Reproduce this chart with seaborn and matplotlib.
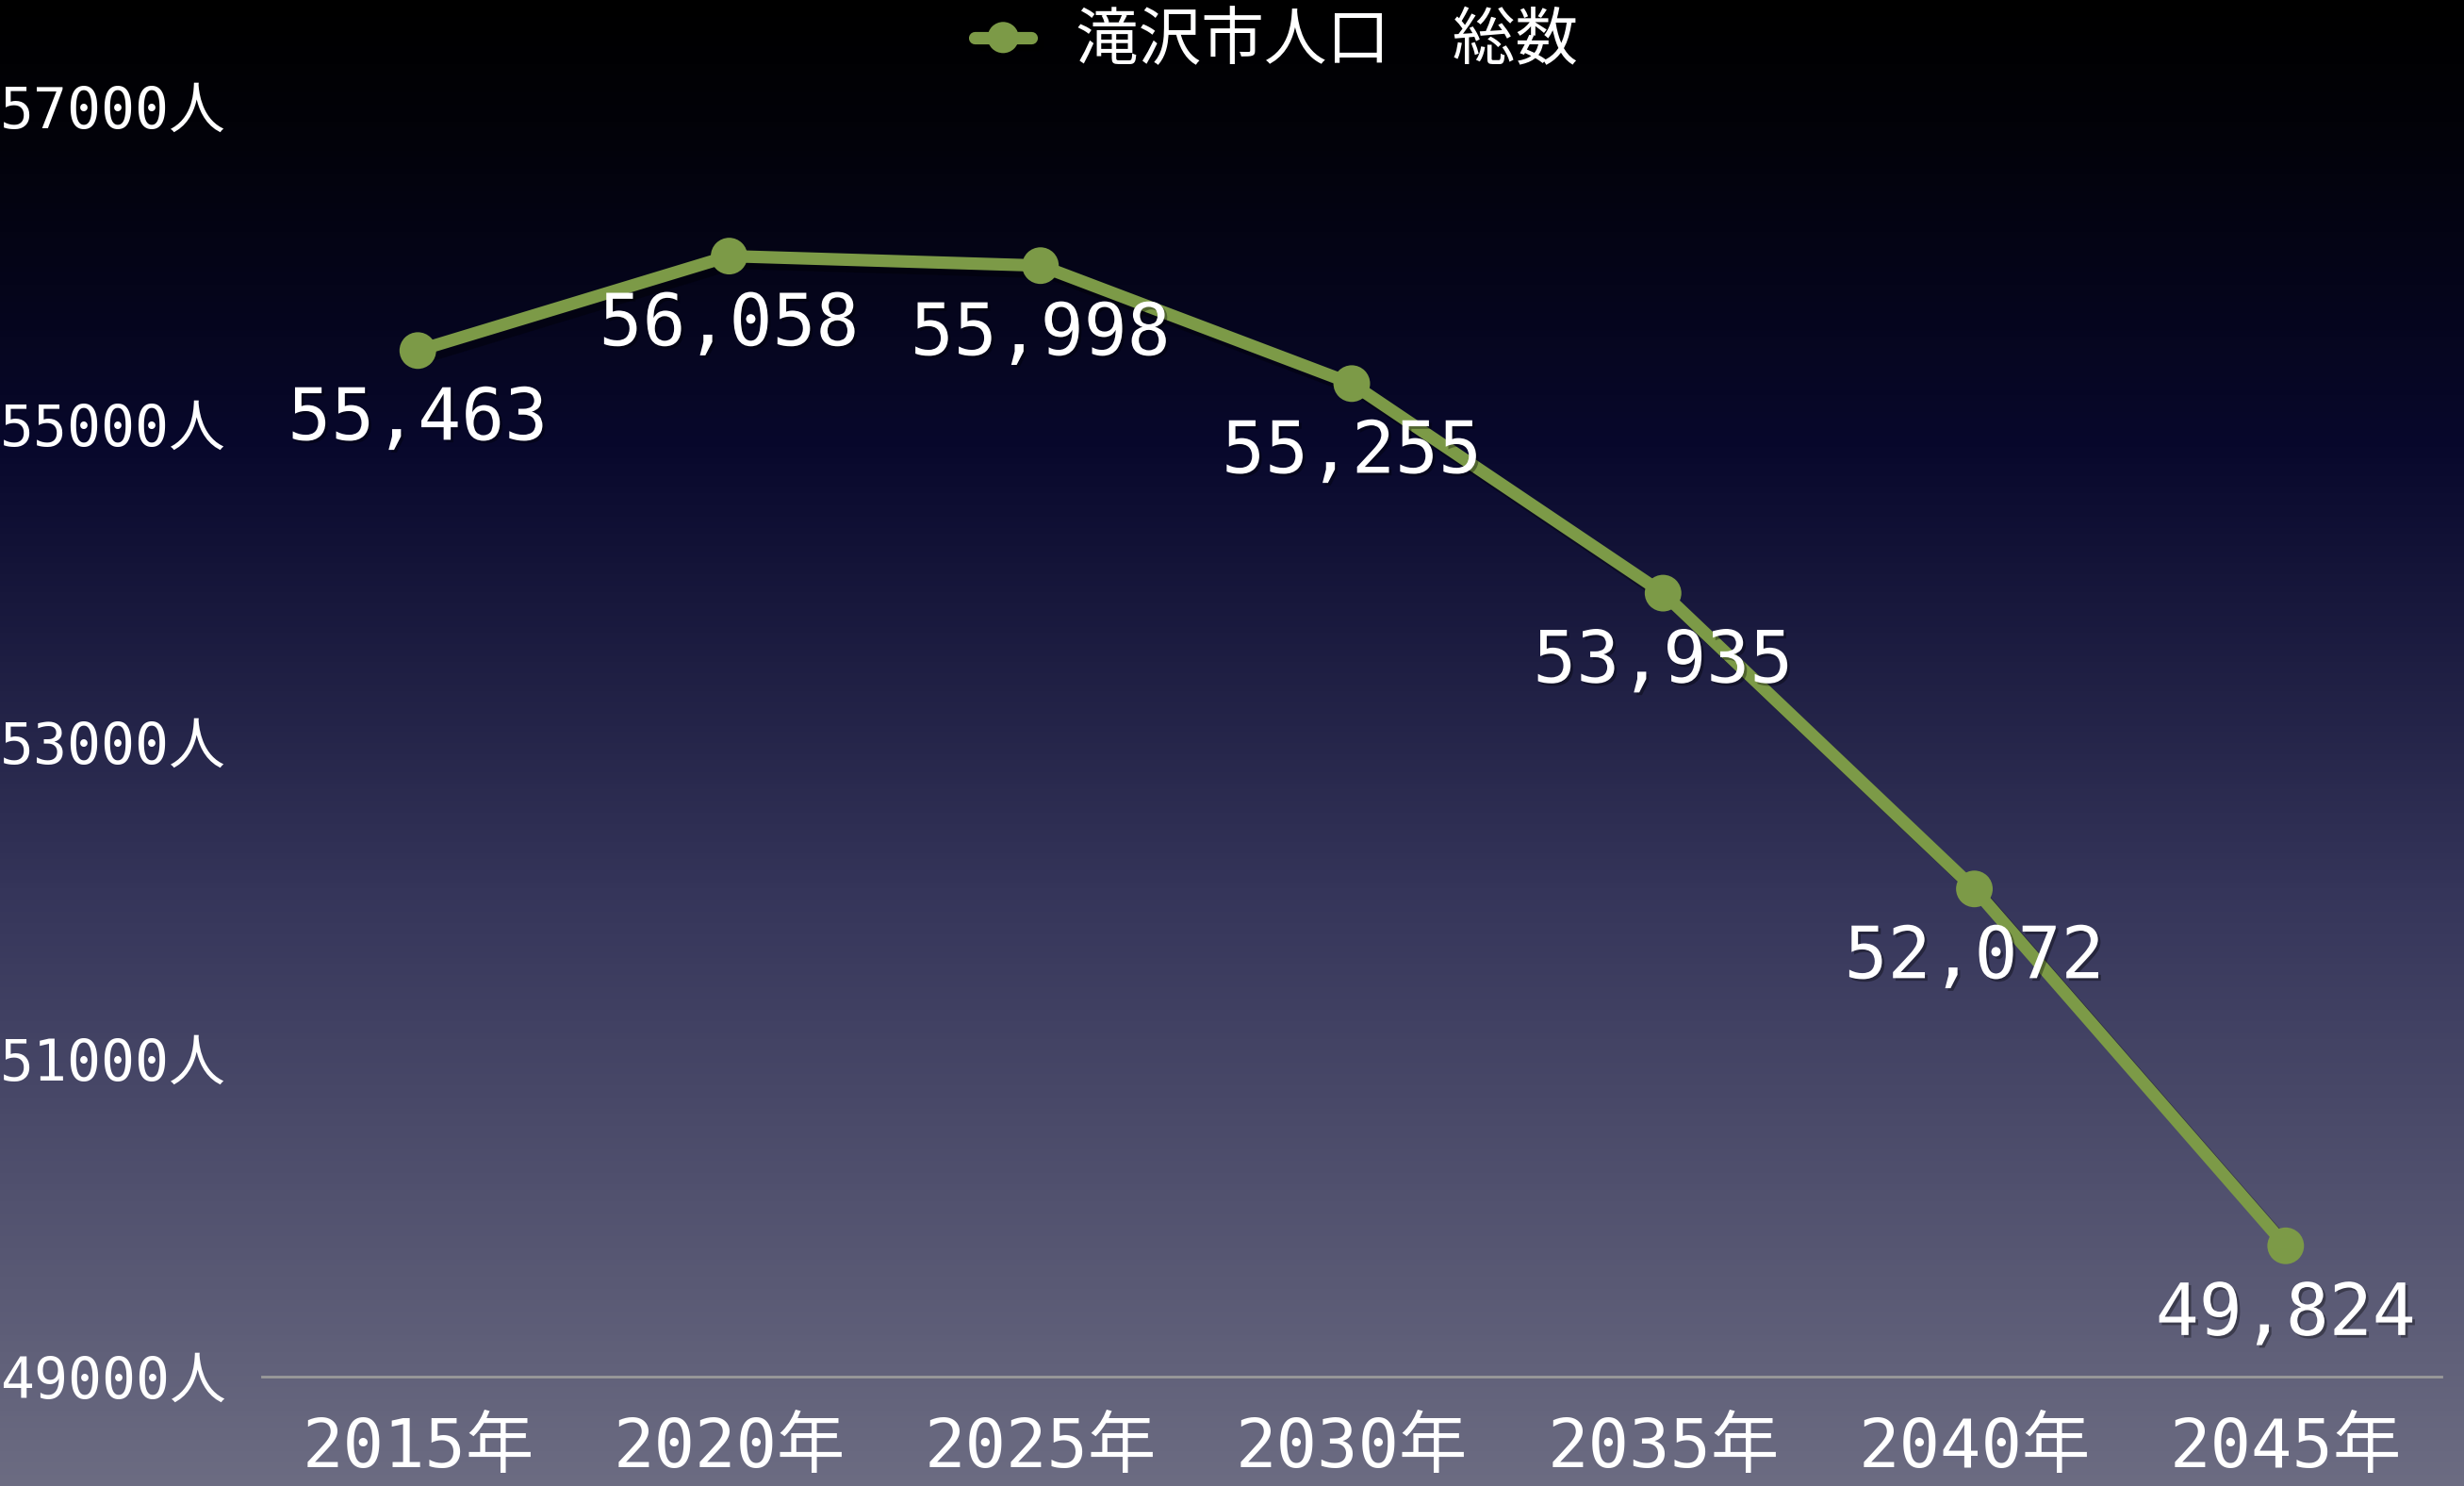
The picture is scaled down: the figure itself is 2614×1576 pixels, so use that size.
import numpy as np
import pandas as pd
import matplotlib
matplotlib.use('Agg')
import matplotlib.pyplot as plt
import matplotlib.patheffects as pe
from matplotlib.colors import LinearSegmentedColormap
import seaborn as sns

# data
years = ['2015年', '2020年', '2025年', '2030年', '2035年', '2040年', '2045年']
population = [55463, 56058, 55998, 55255, 53935, 52072, 49824]
series_name = '滝沢市人口\u3000総数'
y_ticks = [49000, 51000, 53000, 55000, 57000]
y_tick_labels = ['49000人', '51000人', '53000人', '55000人', '57000人']

LINE_CLR = '#7c9a47'

sns.set_style('ticks')
plt.rcParams['font.family'] = ['DejaVu Sans Mono', 'Noto Sans CJK JP']

df = pd.DataFrame({'year': years, 'pop': population, 'series': series_name})

fig = plt.figure(figsize=(26.14, 15.76), dpi=100)

# gradient background
bg = fig.add_axes([0, 0, 1, 1], zorder=-10)
grad_cmap = LinearSegmentedColormap.from_list(
    'bg', [(0.0, '#000000'), (0.08, '#020208'), (0.3, '#08082c'),
           (0.6, '#35355a'), (1.0, '#6c6c82')])
bg.imshow(np.linspace(0, 1, 512).reshape(-1, 1), aspect='auto',
          cmap=grad_cmap, extent=(0, 1, 0, 1))
bg.axis('off')

ax = fig.add_axes([0.1064, 0.0736, 0.8844, 0.8547])
ax.set_facecolor('none')

sns.lineplot(data=df, x='year', y='pop', hue='series', palette=[LINE_CLR],
             marker='o', markersize=28, markeredgewidth=0, linewidth=9.5,
             sort=False, ax=ax, legend=True)

shadow = [pe.SimpleLineShadow(offset=(5, -5), shadow_color='black', alpha=0.35),
          pe.Normal()]
for ln in ax.get_lines():
    ln.set_path_effects(shadow)

# value labels
txt_fx = [pe.withSimplePatchShadow(offset=(2, -2), shadow_rgbFace='black', alpha=0.35)]
for i, v in enumerate(population):
    ax.annotate(f'{v:,}', (i, v), xytext=(0, -53), textcoords='offset points',
                ha='center', va='center', fontsize=55, color='white',
                path_effects=txt_fx)

ax.set_xlim(-0.5, len(years) - 0.5)
ax.set_ylim(49000, 57000)
ax.set_yticks(y_ticks)
ax.set_yticklabels(y_tick_labels)
ax.set_xlabel('')
ax.set_ylabel('')

ax.tick_params(axis='y', length=0, pad=200, labelsize=43, labelcolor='white')
for lbl in ax.get_yticklabels():
    lbl.set_horizontalalignment('left')
ax.tick_params(axis='x', length=0, pad=30, labelsize=52, labelcolor='white')

for s in ['top', 'right', 'left']:
    ax.spines[s].set_visible(False)
ax.spines['bottom'].set_color('#9a9a9a')
ax.spines['bottom'].set_linewidth(2)
ax.grid(False)

# legend at the top
handles, labels = ax.get_legend_handles_labels()
ax.get_legend().remove()
leg = fig.legend(handles, labels, loc='center', bbox_to_anchor=(0.518, 0.972),
                 frameon=False, fontsize=48, labelcolor='white',
                 handlelength=0.9, handletextpad=0.7, markerscale=0.85)

fig.savefig('out.png', dpi=100)
